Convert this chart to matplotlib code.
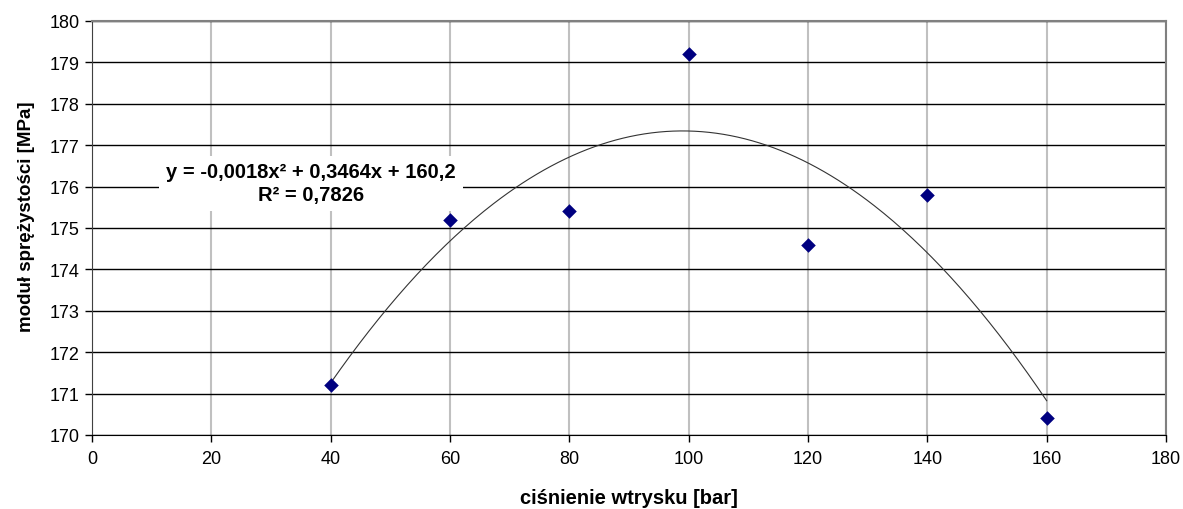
import numpy as np
import matplotlib
matplotlib.use("Agg")
import matplotlib.pyplot as plt

plt.rcParams['font.family'] = ['Liberation Sans', 'DejaVu Sans']

# data
pressure = [40, 60, 80, 100, 120, 140, 160]
modulus = [171.2, 175.2, 175.4, 179.2, 174.6, 175.8, 170.4]
x_ticks = [0, 20, 40, 60, 80, 100, 120, 140, 160, 180]
y_ticks = [170, 171, 172, 173, 174, 175, 176, 177, 178, 179, 180]
equation = "y = -0,0018x² + 0,3464x + 160,2\nR² = 0,7826"
x_label = "ciśnienie wtrysku [bar]"
y_label = "moduł sprężystości [MPa]"

fig = plt.figure(figsize=(11.83, 5.10), dpi=100)
ax = fig.add_axes([92/1183, 74/510, (1166-92)/1183, (436-22)/510])

# trend line from polynomial fit
coef = np.polyfit(pressure, modulus, 2)
xs = np.linspace(min(pressure), max(pressure), 300)
ax.plot(xs, np.polyval(coef, xs), color='#333333', lw=0.8, zorder=3)

ax.scatter(pressure, modulus, marker='D', s=55, color='#000080', zorder=4,
           linewidths=0)

ax.set_xlim(0, 180)
ax.set_ylim(170, 180)
ax.set_xticks(x_ticks)
ax.set_yticks(y_ticks)
ax.tick_params(labelsize=13, direction='out', length=5, width=1, colors='#000000')
ax.tick_params(axis='x', pad=6)
ax.tick_params(axis='y', pad=4)

ax.grid(axis='y', color='black', lw=1)
ax.grid(axis='x', color='#c0c0c0', lw=1.5)
ax.set_axisbelow(True)
for s in ['top', 'right']:
    ax.spines[s].set_color('#808080')
    ax.spines[s].set_linewidth(1.5)
ax.spines['left'].set_color('#404040')
ax.spines['bottom'].set_color('black')

ax.set_xlabel(x_label, fontsize=14.5, fontweight='bold')
ax.xaxis.set_label_coords(0.5, -0.128)
ax.set_ylabel(y_label, fontsize=13.5, fontweight='bold')
ax.yaxis.set_label_coords(-0.053, 0.53)

ax.text(36.7, 176.08, equation, ha='center', va='center', fontsize=14.5,
        fontweight='bold', linespacing=1.25,
        bbox=dict(facecolor='white', edgecolor='none', pad=5), zorder=5)

fig.savefig('out.png', dpi=100)
